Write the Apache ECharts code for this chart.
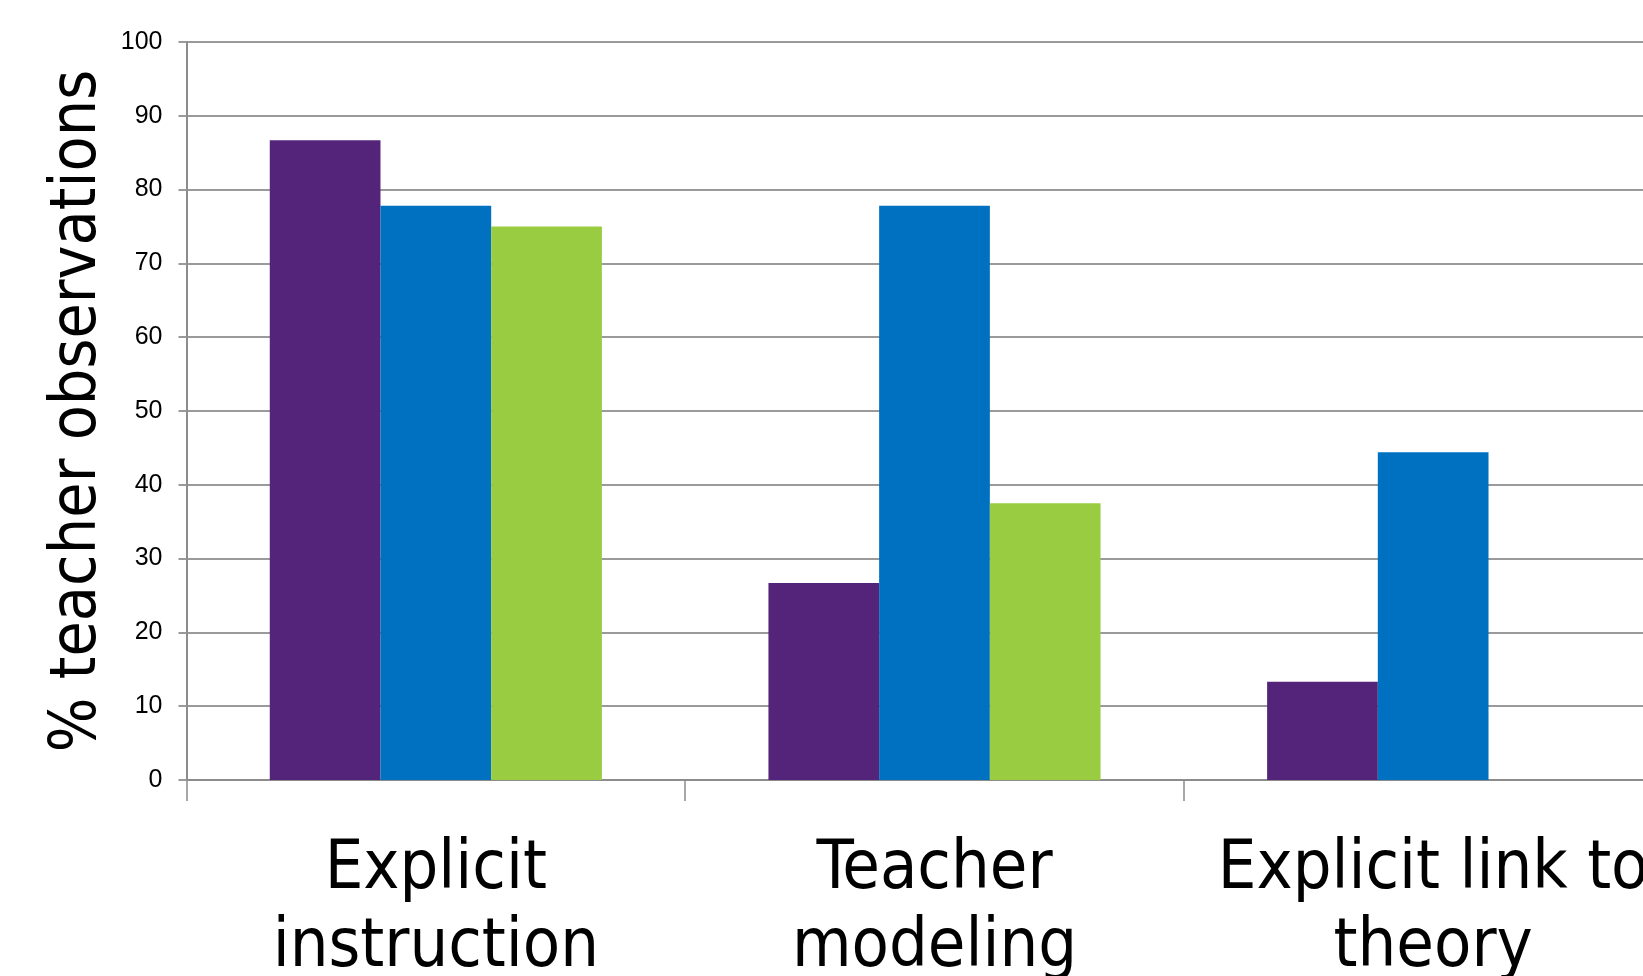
<!DOCTYPE html>
<html>
<head>
<meta charset="utf-8">
<title>% teacher observations</title>
<script src="https://cdn.jsdelivr.net/npm/echarts@6/dist/echarts.min.js"></script>
<style>
	html, body { margin: 0; padding: 0; background: #fff; }
	#main { width: 1643px; height: 976px; }
</style>
</head>
<body>
<div id="main"></div>
<script>
// categories on the x axis
var categories = ['Explicit\ninstruction', 'Teacher\nmodeling', 'Explicit link to\ntheory'];
// bar values (% of teacher observations)
var series1 = [86.7, 26.7, 13.3];
var series2 = [77.8, 77.8, 44.4];
var series3 = [75.0, 37.5, 0];
// y axis ticks
var yMin = 0;
var yMax = 100;
var yStep = 10;

var colors = ['#53247A', '#0070C0', '#99CC40'];
var textFont = '"DejaVu Sans Condensed", "DejaVu Sans", sans-serif';

var myChart = echarts.init(document.getElementById('main'));

function bar(name, data, color) {
	return {
		name: name,
		type: 'bar',
		data: data,
		barGap: '0%',
		barCategoryGap: '33.4%',
		itemStyle: { color: color },
		silent: true
	};
}

myChart.setOption({
	animation: false,
	grid: {
		left: 186.5,
		top: 42,
		bottom: 196,
		width: 1496,
		containLabel: false,
		outerBoundsMode: 'none'
	},
	xAxis: {
		type: 'category',
		data: categories,
		boundaryGap: true,
		axisLine: { lineStyle: { color: '#8c8c8c', width: 2 } },
		axisTick: { show: true, length: 21, alignWithLabel: false, lineStyle: { color: '#8c8c8c', width: 1.5 } },
		axisLabel: {
			interval: 0,
			margin: 51,
			color: '#000',
			fontFamily: textFont,
			fontSize: 68,
			lineHeight: 78
		}
	},
	yAxis: {
		type: 'value',
		min: yMin,
		max: yMax,
		interval: yStep,
		name: '% teacher observations',
		nameLocation: 'middle',
		nameGap: 54,
		nameTextStyle: { fontFamily: textFont, fontSize: 64, color: '#000' },
		axisLine: { show: true, lineStyle: { color: '#8c8c8c', width: 2 } },
		axisTick: { show: true, length: 8, lineStyle: { color: '#9a9a9a', width: 2 } },
		axisLabel: {
			margin: 24,
			color: '#000',
			fontFamily: 'Liberation Sans, Arial, sans-serif',
			fontSize: 25
		},
		splitLine: { show: true, lineStyle: { color: '#9a9a9a', width: 2 } }
	},
	series: [
		bar('Series 1', series1, colors[0]),
		bar('Series 2', series2, colors[1]),
		bar('Series 3', series3, colors[2])
	]
});
</script>
</body>
</html>
